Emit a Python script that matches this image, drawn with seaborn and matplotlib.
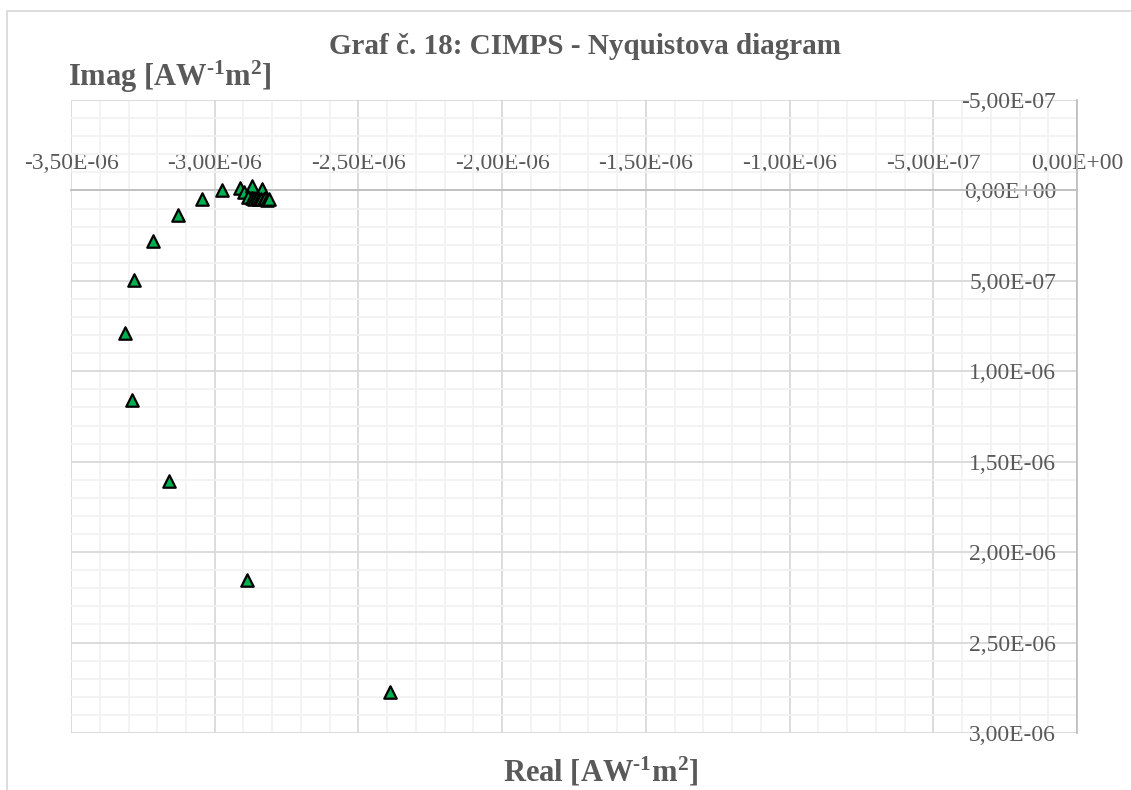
import matplotlib
matplotlib.use('Agg')
import matplotlib.pyplot as plt
import matplotlib.ticker as mticker
from matplotlib.patches import Rectangle
import seaborn as sns
import pandas as pd

# CIMPS Nyquist data (in A W^-1 m^2)
real = [-2.389e-6, -2.887e-6, -3.159e-6, -3.288e-6, -3.312e-6, -3.281e-6,
        -3.215e-6, -3.128e-6, -3.044e-6, -2.975e-6, -2.912e-6, -2.898e-6,
        -2.870e-6, -2.835e-6, -2.885e-6, -2.872e-6, -2.862e-6, -2.852e-6,
        -2.845e-6, -2.838e-6, -2.830e-6, -2.825e-6, -2.818e-6, -2.812e-6]
imag = [2.773e-6, 2.155e-6, 1.608e-6, 1.160e-6, 0.790e-6, 0.497e-6,
        0.282e-6, 0.138e-6, 0.050e-6, -0.005e-6, -0.015e-6, 0.010e-6,
        -0.025e-6, -0.010e-6, 0.035e-6, 0.040e-6, 0.045e-6, 0.040e-6,
        0.048e-6, 0.045e-6, 0.050e-6, 0.042e-6, 0.052e-6, 0.048e-6]

title = 'Graf č. 18: CIMPS - Nyquistova diagram'
unit = 'AW$^{\u20101}$m$^{2}$'
xlabel = 'Real [' + unit + ']'
ylabel = 'Imag [' + unit + ']'

df = pd.DataFrame({'Real': real, 'Imag': imag})

sns.set_style('white')
plt.rcParams['font.family'] = ['Liberation Serif', 'DejaVu Serif']
plt.rcParams['mathtext.fontset'] = 'custom'
plt.rcParams['mathtext.rm'] = 'Liberation Serif:bold'
plt.rcParams['mathtext.it'] = 'Liberation Serif:bold'
plt.rcParams['mathtext.bf'] = 'Liberation Serif:bold'
plt.rcParams['mathtext.default'] = 'rm'
txt = '#595959'

fig = plt.figure(figsize=(11.31, 7.9), dpi=100)
ax = fig.add_axes([0.0628, 0.0722, 0.8895, 0.8012])

sns.scatterplot(data=df, x='Real', y='Imag', marker='^', s=80,
                color='#00b050', edgecolor='black', linewidth=1.6,
                zorder=5, clip_on=False, ax=ax)

ax.set_xlim(-3.5e-6, 0)
ax.set_ylim(3.0e-6, -0.5e-6)

ax.xaxis.set_major_locator(mticker.MultipleLocator(0.5e-6))
ax.xaxis.set_minor_locator(mticker.MultipleLocator(0.1e-6))
ax.yaxis.set_major_locator(mticker.MultipleLocator(0.5e-6))
ax.yaxis.set_minor_locator(mticker.MultipleLocator(0.1e-6))

fmt = mticker.FuncFormatter(lambda v, p: f'{(0.0 if abs(v) < 1e-12 else v):.2E}'.replace('.', ','))
ax.xaxis.set_major_formatter(fmt)
ax.yaxis.set_major_formatter(fmt)

ax.grid(which='major', color='#d9d9d9', linewidth=1.3)
ax.grid(which='minor', color='#f2f2f2', linewidth=1.3)
ax.set_axisbelow(True)

# axes cross at zero, like the spreadsheet chart
ax.spines['top'].set_position(('data', 0))
ax.spines['left'].set_position(('data', 0))
for s in ['top', 'left']:
    ax.spines[s].set_color('#bfbfbf')
    ax.spines[s].set_linewidth(1.3)
for s in ['bottom', 'right']:
    ax.spines[s].set_visible(False)

ax.xaxis.tick_top()
ax.tick_params(axis='x', which='both', length=0, pad=12, labelsize=17, labelcolor=txt)
ax.tick_params(axis='y', which='both', length=0, pad=15, labelsize=17, labelcolor=txt)
ax.set_xlabel('')
ax.set_ylabel('')

fig.text(0.517, 0.941, title, ha='center', va='center', fontsize=21,
         fontweight='bold', color=txt)
fig.text(0.060, 0.903, ylabel, ha='left', va='center', fontsize=22,
         fontweight='bold', color=txt)
fig.text(0.531, 0.023, xlabel, ha='center', va='center', fontsize=22,
         fontweight='bold', color=txt)

# chart frame: top and left edges only, the rest runs off the image
fig.add_artist(Rectangle((7 / 1131, -0.05), 1.1, 1.05 - 11 / 790,
                         transform=fig.transFigure, fill=False,
                         edgecolor='#d9d9d9', linewidth=1.3))

fig.savefig('out.png', dpi=100)
